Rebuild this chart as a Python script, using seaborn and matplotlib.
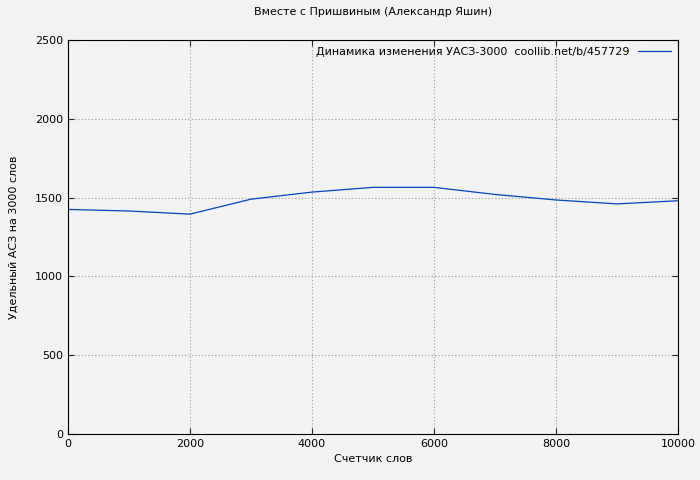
import matplotlib
matplotlib.use("Agg")
import matplotlib.pyplot as plt
import seaborn as sns
import pandas as pd

words = [0, 1000, 2000, 3000, 4000, 5000, 6000, 7000, 8000, 9000, 10000]
uasz = [1425, 1415, 1395, 1490, 1535, 1565, 1565, 1520, 1485, 1460, 1480]
xticks = [0, 2000, 4000, 6000, 8000, 10000]
yticks = [0, 500, 1000, 1500, 2000, 2500]

sns.set_style("ticks")
plt.rcParams['font.family'] = ['DejaVu Sans']
plt.rcParams['font.size'] = 8

df = pd.DataFrame({"x": words, "y": uasz})
fig = plt.figure(figsize=(7, 4.8), dpi=100, facecolor="#f2f2f2")
ax = fig.add_axes([68/700, 46/480, 610/700, 394/480])
ax.set_facecolor("#f2f2f2")
sns.lineplot(data=df, x="x", y="y", ax=ax, color="#0044bb", linewidth=0.9,
             label="Динамика изменения УАСЗ-3000  coollib.net/b/457729")
ax.set_xlim(0, 10000)
ax.set_ylim(0, 2500)
ax.set_xticks(xticks)
ax.set_yticks(yticks)
ax.grid(True, color="#999999", linestyle=(0, (1, 2)), linewidth=0.8)
for s in ax.spines.values():
    s.set_color("black"); s.set_linewidth(0.8)
ax.tick_params(direction="in", length=4, top=True, right=True, labelsize=8, labelcolor="black")
ax.set_xlabel("Счетчик слов", fontsize=8, color="black")
ax.set_ylabel("Удельный АСЗ на 3000 слов", fontsize=8, color="black", labelpad=12)
ax.set_title("Вместе с Пришвиным (Александр Яшин)", fontsize=8, pad=18, color="black")
leg = ax.legend(loc="upper right", frameon=False, fontsize=8, markerfirst=False,
                handlelength=3, borderaxespad=0.2)
for t in leg.get_texts():
    t.set_color("black")
fig.savefig("out.png", dpi=100, facecolor="#f2f2f2")
